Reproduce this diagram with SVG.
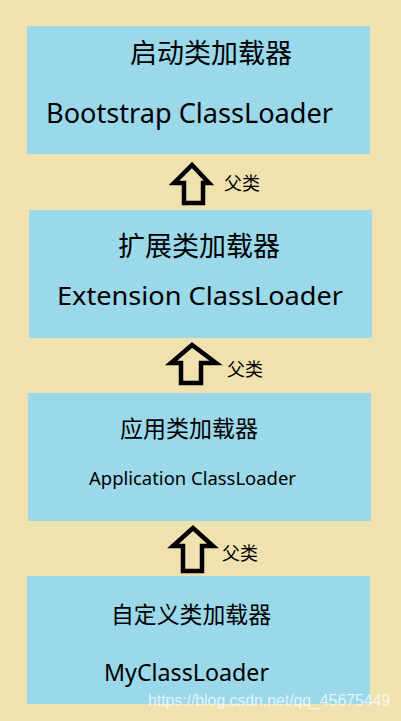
<svg xmlns="http://www.w3.org/2000/svg" width="401" height="721" viewBox="0 0 401 721">
<style>
.box{fill:#9BD8EA}
.zh{font-family:"Noto Sans CJK SC","Noto Sans",sans-serif;fill:#000}
.en{font-family:"Noto Sans","Open Sans",sans-serif;fill:#000}
.arr{fill:none;stroke:#000;stroke-width:4.5;stroke-linejoin:miter}
.lbl{font-family:"Noto Sans CJK SC",sans-serif;font-size:18px;fill:#000}
</style>
<rect width="401" height="721" fill="#F0E2AF"/>
<g id="bootstrap">
<rect class="box" x="27" y="26" width="343" height="128"/>
<text class="zh" x="130" y="63" font-size="27" textLength="162" lengthAdjust="spacingAndGlyphs">启动类加载器</text>
<text class="en" x="46" y="123" font-size="27" textLength="287" lengthAdjust="spacingAndGlyphs">Bootstrap ClassLoader</text>
</g>
<g id="extension">
<rect class="box" x="29" y="210" width="343" height="128"/>
<text class="zh" x="118" y="256" font-size="27" textLength="162" lengthAdjust="spacingAndGlyphs">扩展类加载器</text>
<text class="en" x="57" y="305" font-size="25" textLength="286" lengthAdjust="spacingAndGlyphs">Extension ClassLoader</text>
</g>
<g id="application">
<rect class="box" x="28" y="393" width="343" height="128"/>
<text class="zh" x="120" y="437" font-size="23" textLength="138" lengthAdjust="spacingAndGlyphs">应用类加载器</text>
<text class="en" x="89" y="485" font-size="18.5" textLength="207" lengthAdjust="spacingAndGlyphs">Application ClassLoader</text>
</g>
<g id="custom">
<rect class="box" x="27" y="576" width="343" height="128"/>
<text class="zh" x="111" y="623" font-size="23" textLength="160" lengthAdjust="spacingAndGlyphs">自定义类加载器</text>
<text class="en" x="104" y="681" font-size="23" textLength="165" lengthAdjust="spacingAndGlyphs">MyClassLoader</text>
</g>
<g id="connectors">
<polygon class="arr" points="192,165 174,183 184,183 184,203 203,203 203,183 209,183"/>
<text class="lbl" x="224" y="190">父类</text>
<polygon class="arr" points="192,345 171,363 181,363 181,383 201,383 201,363 216,363"/>
<text class="lbl" x="227" y="376">父类</text>
<polygon class="arr" points="193,528 173,546 183,546 183,571 202,571 202,546 213,546"/>
<text class="lbl" x="222" y="560">父类</text>
</g>
<text x="148" y="706" font-family="Liberation Sans,Arial,sans-serif" font-size="16" fill="#FFFFFF" fill-opacity="0.75" textLength="242" lengthAdjust="spacingAndGlyphs">https://blog.csdn.net/qq_45675449</text>
</svg>
